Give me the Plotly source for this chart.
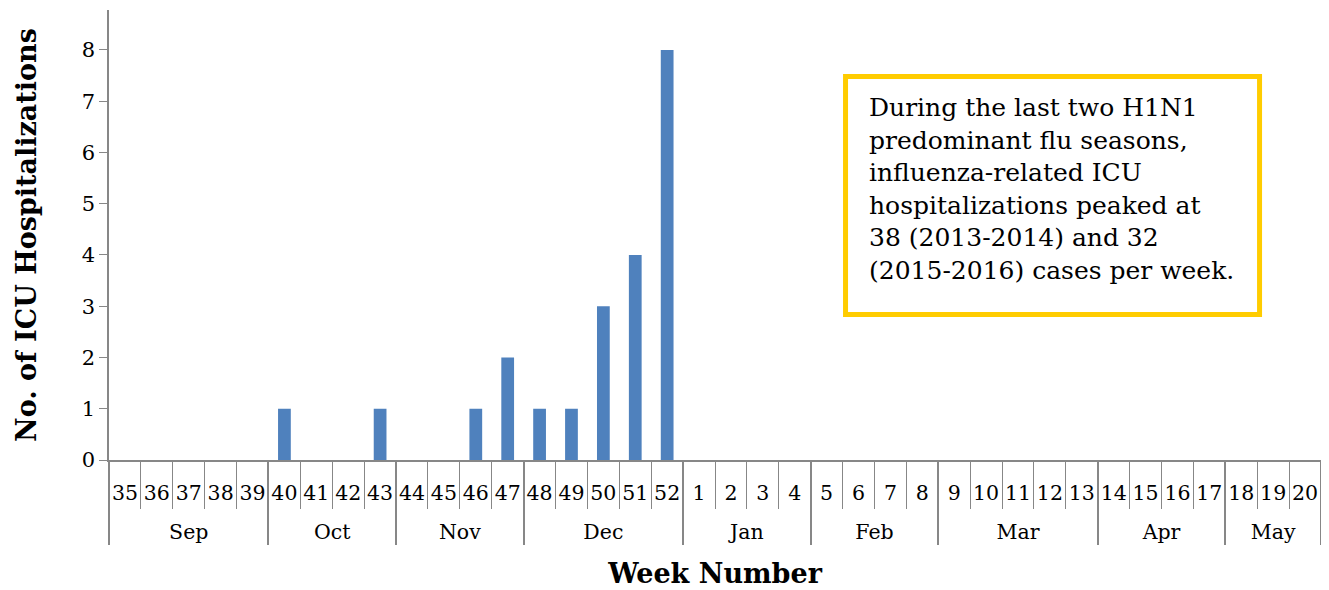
import plotly.graph_objects as go

weeks = [35, 36, 37, 38, 39, 40, 41, 42, 43, 44, 45, 46, 47, 48, 49, 50, 51, 52,
         1, 2, 3, 4, 5, 6, 7, 8, 9, 10, 11, 12, 13, 14, 15, 16, 17, 18, 19, 20]
months = ['Sep'] * 5 + ['Oct'] * 4 + ['Nov'] * 4 + ['Dec'] * 5 + ['Jan'] * 4 + \
         ['Feb'] * 4 + ['Mar'] * 5 + ['Apr'] * 4 + ['May'] * 3
icu_cases = [0, 0, 0, 0, 0, 1, 0, 0, 1, 0, 0, 1, 2, 1, 1, 3, 4, 8,
             None, None, None, None, None, None, None, None, None, None,
             None, None, None, None, None, None, None, None, None, None]

note = ("During the last two H1N1<br>predominant flu seasons,<br>"
        "influenza-related ICU<br>hospitalizations peaked at<br>"
        "38 (2013-2014) and 32<br>(2015-2016) cases per week.")

FONT = "DejaVu Serif"
GREY = "#878787"

# a blank first line pushes the month row further below the week row
month_labels = ["&nbsp;<br>" + m for m in months]

fig = go.Figure()
fig.add_trace(go.Bar(
    x=[month_labels, [str(w) for w in weeks]],
    y=icu_cases,
    marker_color="#4f81bd",
    marker_line_width=0,
))

# page body adds 8px offset, so the figure is 8px smaller than the window
fig.update_layout(
    width=1321, height=582,
    paper_bgcolor="white", plot_bgcolor="white",
    margin=dict(l=101, r=8, t=2, b=130),
    bargap=0.6,
    showlegend=False,
    font=dict(family=FONT, color="black", size=20),
    xaxis=dict(
        type="multicategory",
        automargin=False,
        showline=True, linecolor=GREY, linewidth=1.5,
        ticks="outside", tickson="boundaries", ticklen=47,
        tickcolor=GREY, tickwidth=1.2, tickangle=0,
        ticklabelstandoff=14,
        showdividers=True, dividercolor=GREY, dividerwidth=1.5,
        tickfont=dict(size=20.5),
        title=dict(text="<b>Week Number</b>", font=dict(size=27), standoff=21),
    ),
    yaxis=dict(
        range=[0, 8.78], dtick=1,
        automargin=False,
        showgrid=False, zeroline=False,
        showline=True, linecolor=GREY, linewidth=1.5,
        ticks="outside", ticklen=8, tickcolor=GREY,
        tickfont=dict(size=21),
        title=dict(text="<b>No. of ICU Hospitalizations</b>", font=dict(size=27), standoff=37),
    ),
)

fig.add_shape(
    type="rect", xref="paper", yref="paper",
    x0=0.6077, x1=0.9493, y0=0.3233, y1=0.8522,
    line=dict(color="#ffcc00", width=5), fillcolor="white", layer="above",
)
fig.add_annotation(
    xref="paper", yref="paper", x=0.6262, y=0.6033,
    xanchor="left", yanchor="middle",
    text=note, showarrow=False, align="left",
    font=dict(family=FONT, size=25, color="black"),
    borderpad=0,
)

fig.write_html("out.html")
